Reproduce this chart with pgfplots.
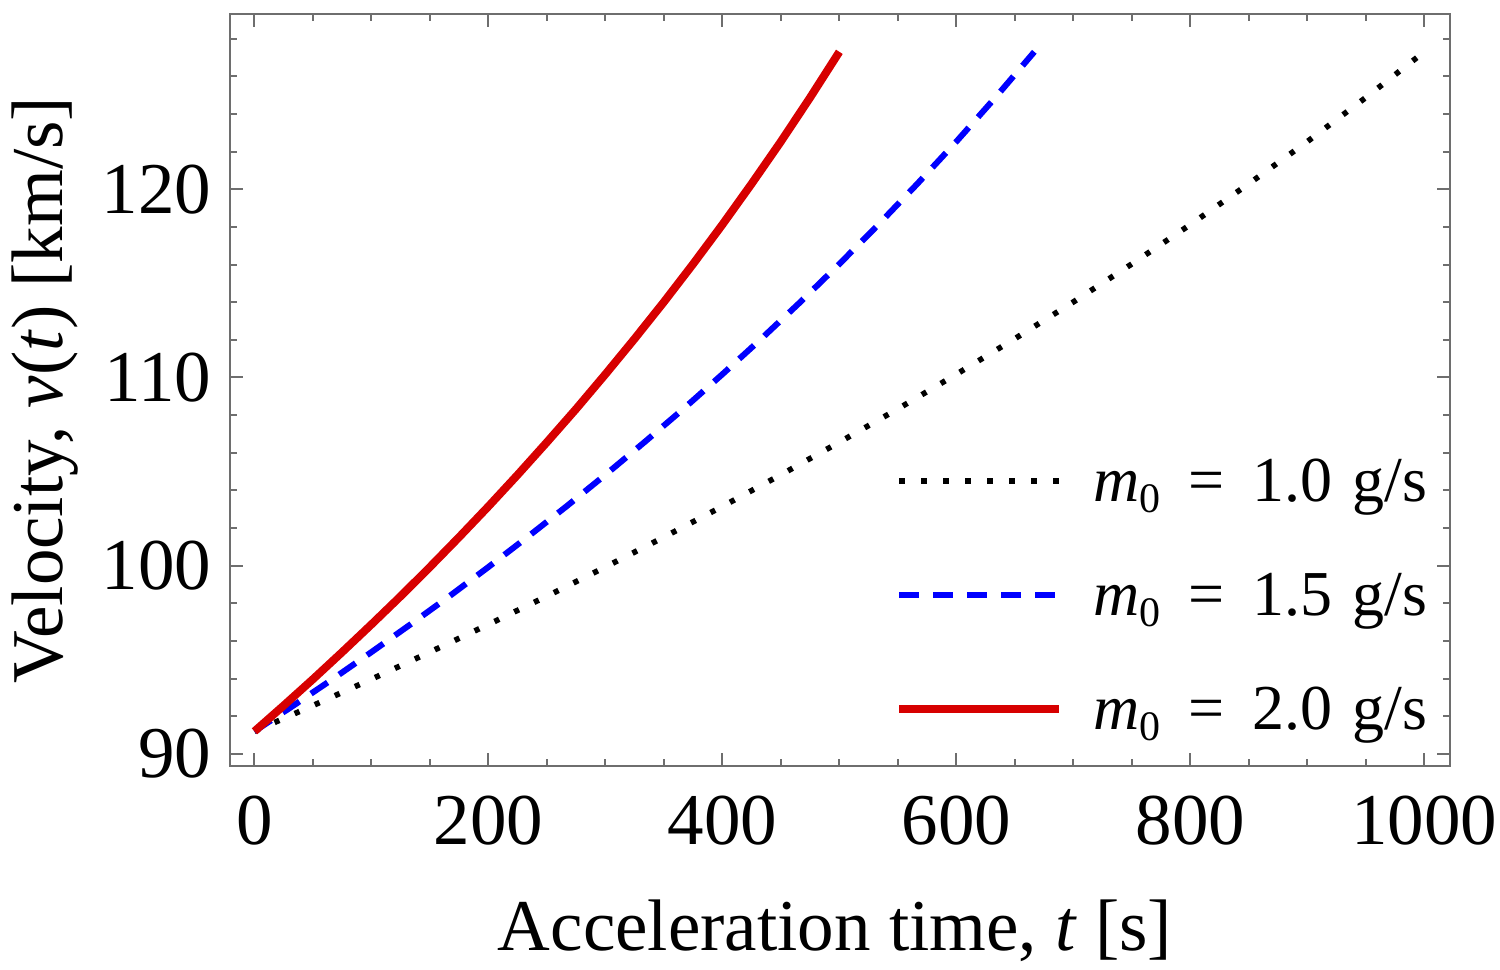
\documentclass[border=0pt]{standalone}
\usepackage{fontspec}
\setmainfont{Liberation Serif}
\usepackage{pgfplots}
\usepackage{pgfplotstable}
\pgfplotsset{compat=1.18}
\usetikzlibrary{calc}

\definecolor{framegray}{RGB}{110,110,110}
\definecolor{curvered}{RGB}{215,0,0}

% times for m0 = 1.0, 1.5, 2.0 g/s and velocity [km/s]
\pgfplotstableread{
tA      tB      tC     v
0       0       0      91.20
50      33.33   25     92.57
100     66.67   50     93.97
150     100     75     95.41
200     133.33  100    96.88
250     166.67  125    98.38
300     200     150    99.93
350     233.33  175    101.52
400     266.67  200    103.15
450     300     225    104.83
500     333.33  250    106.56
550     366.67  275    108.33
600     400     300    110.17
650     433.33  325    112.06
700     466.67  350    114.01
750     500     375    116.03
800     533.33  400    118.12
850     566.67  425    120.29
900     600     450    122.53
950     633.33  475    124.87
1000    666.67  500    127.30
}\datatable

\newcommand{\mzero}{{\itshape m}\raisebox{-2.9pt}{\fontsize{10.5}{10}\selectfont 0}}
\newcommand{\leg}[1]{\mzero\hspace{7pt}=\hspace{7pt}#1\hspace{5pt}g/s}

\begin{document}
\begin{tikzpicture}
\begin{axis}[
  scale only axis,
  width=305pt, height=188pt,
  xmin=-20.9, xmax=1022,
  ymin=89.36, ymax=129.31,
  xtick={0,200,400,600,800,1000},
  minor xtick={50,100,150,250,300,350,450,500,550,650,700,750,850,900,950},
  ytick={90,100,110,120},
  minor ytick={92,94,96,98,102,104,106,108,112,114,116,118,122,124,126,128},
  tick align=inside,
  major tick length=3.2pt,
  minor tick length=1.7pt,
  every tick/.style={framegray, line width=0.5pt},
  axis line style={framegray, line width=0.7pt},
  /pgf/number format/assume math mode=true,
  /pgf/number format/1000 sep={},
  tick label style={font=\fontsize{18.25}{20}\selectfont, black},
  xticklabel style={anchor=base, yshift=-19.75pt},
  yticklabel style={anchor=east, inner sep=0pt, xshift=-4.5pt},
  label style={font=\fontsize{18.25}{20}\selectfont},
  xlabel={Acceleration time, \textit{t} [s]},
  ylabel={Velocity, \textit{v}(\textit{t}) [km/s]},
  xlabel style={at={(axis description cs:0.496,-0.2447)}, anchor=base},
  ylabel style={at={(axis description cs:-0.137,0.5)}, anchor=base},
  legend cell align=left,
  legend style={draw=none, fill=none, at={(0.992,0.016)}, anchor=south east,
    font=\fontsize{16}{18}\selectfont, column sep=7.5pt, row sep=12.5pt,
    nodes={inner sep=0pt, text height=12pt, text depth=4pt}},
  legend image code/.code={\draw[#1] (0pt,1pt) -- (40pt,1pt);},
]
\addplot[black, line width=1.4pt, dash pattern=on 1.3pt off 4.2pt] table[x=tA, y=v] {\datatable};
\addlegendentry{\leg{1.0}}
\addplot[blue, line width=1.5pt, dash pattern=on 5pt off 3.5pt] table[x=tB, y=v] {\datatable};
\addlegendentry{\leg{1.5}}
\addplot[curvered, line width=2pt] table[x=tC, y=v] {\datatable};
\addlegendentry{\leg{2.0}}
\end{axis}
\pgfresetboundingbox
\path[use as bounding box] ($(current axis.south west)+(-57.5pt,-51pt)$) rectangle ($(current axis.north east)+(12.5pt,3.5pt)$);
\end{tikzpicture}
\end{document}
